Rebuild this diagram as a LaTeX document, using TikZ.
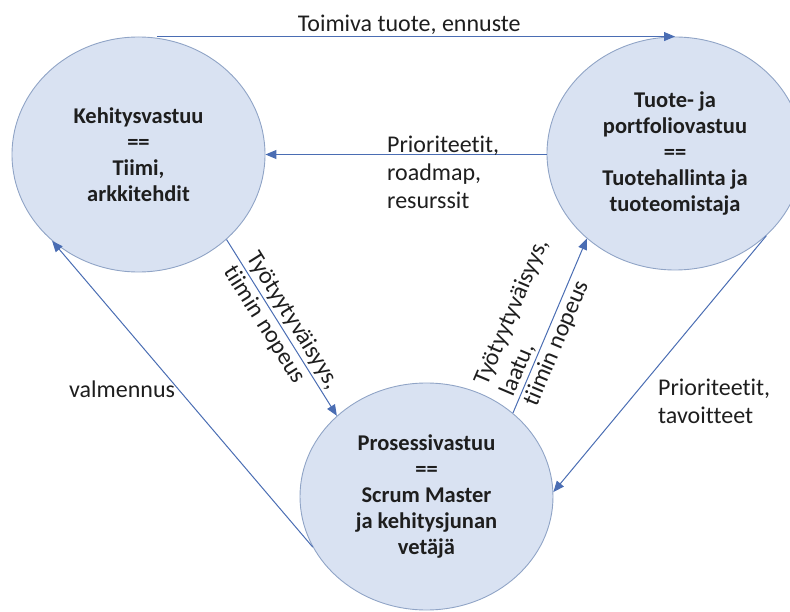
\documentclass[tikz,border=0pt]{standalone}
\usepackage{fontspec}
\setmainfont{Carlito}[Ligatures=CommonOff]
\usetikzlibrary{shapes.geometric,arrows.meta}

\definecolor{roleFill}{HTML}{D9E2F2}
\definecolor{roleEdge}{HTML}{90A4C6}
\definecolor{flow}{HTML}{4A6DB3}
\definecolor{ink}{HTML}{1E1E1E}

\begin{document}
\begin{tikzpicture}[x=1pt,y=-1pt,
  role/.style={ellipse, draw=roleEdge, fill=roleFill, line width=0.9pt,
    inner sep=0pt, text=ink, align=center,
    font=\fontsize{22.5}{26}\selectfont\bfseries},
  flowline/.style={draw=flow, line width=1pt,
    -{Triangle[length=11pt,width=9pt]}},
  lbl/.style={text=ink, inner sep=1.5pt,
    font=\fontsize{24}{28}\selectfont},
  slopelbl/.style={lbl, sloped, inner sep=2.5pt},
]
\path[use as bounding box] (0,0) rectangle (790,612);

% the three areas of responsibility
\node[role, minimum width=253pt, minimum height=235pt] (K) at (138.5,154.5)
  {Kehitysvastuu\\==\\Tiimi,\\arkkitehdit};
\node[role, minimum width=256pt, minimum height=233pt] (T) at (675,153.5)
  {Tuote- ja\\portfoliovastuu\\==\\Tuotehallinta ja\\tuoteomistaja};
\node[role, minimum width=253pt, minimum height=227pt] (P) at (426.5,496.5)
  {Prosessivastuu\\==\\Scrum Master\\ja kehitysjunan\\vetäjä};

% flows between them
\draw[flowline] (K.81 |- T.north) --
  node[lbl, pos=0.487, anchor=base, yshift=5pt] (topLbl) {Toimiva tuote, ennuste}
  (T.north);

% multi-line labels: the base anchor sits on the last line
\draw[flowline] (T.west |- K.east) --
  node[lbl, pos=0.574, anchor=base west, yshift=-54.5pt, align=left] (midLbl)
    {Prioriteetit,\\roadmap,\\resurssit}
  (K.east);

\draw[flowline] (K.-44) --
  node[slopelbl, pos=0.11, anchor=south west] (kpA) {Työtyytyväisyys,}
  node[slopelbl, pos=0.11, anchor=north west] (kpB) {tiimin nopeus}
  (P.138);

\draw[flowline] (P.44) --
  node[slopelbl, pos=0.06, anchor=south west, align=left] (ptA)
    {Työtyytyväisyys,\\laatu,}
  node[slopelbl, pos=0.06, anchor=north west] (ptB) {tiimin nopeus}
  (T.224);

\draw[flowline] (T.-42.5) -- (P.2);
\node[lbl, anchor=base west, align=left] (tpLbl) at (656.5,423)
  {Prioriteetit,\\tavoitteet};

\draw[flowline] (P.204) --
  node[lbl, pos=0.49, anchor=base east, xshift=-8pt] (pkLbl) {valmennus}
  (K.225.3);
\end{tikzpicture}
\end{document}
